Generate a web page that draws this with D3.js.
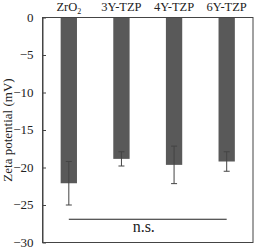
<!DOCTYPE html>
<html>
<head>
<meta charset="utf-8">
<script src="https://cdn.jsdelivr.net/npm/d3@7"></script>
<style>
  body { margin: 0; background: #fff; }
  text { font-family: 'Liberation Serif', 'Times New Roman', serif; fill: #222; }
</style>
</head>
<body>
<div id="chart"></div>
<script>
const categories = ['ZrO2', '3Y-TZP', '4Y-TZP', '6Y-TZP']
const means = [-22.1, -18.85, -19.65, -19.2]
const errors = [2.9, 0.95, 2.5, 1.3]
const yTicks = [0, -5, -10, -15, -20, -25, -30]
const nsLevel = -26.9

const width = 255
const height = 247
const margin = { top: 17.5, right: 2, bottom: 4.5, left: 42.5 }

const svg = d3.select('#chart').append('svg')
  .attr('width', width)
  .attr('height', height)

const x = d3.scaleBand()
  .domain(categories)
  .range([margin.left, width - margin.right])
  .paddingInner(0.69)
  .paddingOuter(0.345)

const y = d3.scaleLinear()
  .domain([0, -30])
  .range([margin.top, height - margin.bottom])

// bars
svg.selectAll('rect.bar').data(categories).join('rect')
  .attr('class', 'bar')
  .attr('x', d => x(d))
  .attr('width', x.bandwidth())
  .attr('y', y(0))
  .attr('height', (d, i) => y(means[i]) - y(0))
  .attr('fill', '#595959')

// error bars
const cx = d => x(d) + x.bandwidth() / 2
const err = svg.append('g').attr('stroke', '#444').attr('stroke-width', 1)
categories.forEach((c, i) => {
  const top = y(means[i] + errors[i])
  const bot = y(means[i] - errors[i])
  err.append('line').attr('x1', cx(c)).attr('x2', cx(c)).attr('y1', top).attr('y2', bot)
  err.append('line').attr('x1', cx(c) - 3).attr('x2', cx(c) + 3).attr('y1', top).attr('y2', top)
  err.append('line').attr('x1', cx(c) - 3).attr('x2', cx(c) + 3).attr('y1', bot).attr('y2', bot)
})

// frame
svg.append('rect')
  .attr('x', margin.left)
  .attr('y', margin.top)
  .attr('width', width - margin.left - margin.right)
  .attr('height', height - margin.top - margin.bottom)
  .attr('fill', 'none')
  .attr('stroke', '#444')
  .attr('stroke-width', 1)

// y axis, ticks inward
const yAxis = svg.append('g')
  .attr('transform', `translate(${margin.left},0)`)
  .call(d3.axisLeft(y).tickValues(yTicks).tickSizeInner(-3.5).tickSizeOuter(0).tickPadding(9))
yAxis.select('.domain').attr('stroke', '#444')
yAxis.selectAll('.tick line').attr('stroke', '#444')
yAxis.selectAll('.tick text')
  .style('font-family', "'Liberation Serif', serif")
  .style('font-size', '13px')
  .attr('fill', '#222')
  .attr('dy', '0.3em')

// category labels on top
svg.selectAll('text.cat').data(categories).join('text')
  .attr('class', 'cat')
  .attr('x', d => cx(d))
  .attr('y', 11)
  .attr('text-anchor', 'middle')
  .style('font-size', '12.5px')
  .each(function (d) {
    const t = d3.select(this)
    if (d === 'ZrO2') {
      t.append('tspan').text('ZrO')
      t.append('tspan').attr('dy', 2.5).style('font-size', '8px').text('2')
    } else {
      t.text(d)
    }
  })

// axis title
svg.append('text')
  .attr('transform', `translate(12,${(margin.top + height - margin.bottom) / 2}) rotate(-90)`)
  .attr('text-anchor', 'middle')
  .style('font-size', '13px')
  .text('Zeta potential (mV)')

// n.s. bracket
svg.append('line')
  .attr('x1', cx(categories[0]))
  .attr('x2', cx(categories[3]))
  .attr('y1', y(nsLevel))
  .attr('y2', y(nsLevel))
  .attr('stroke', '#222')
  .attr('stroke-width', 1.2)
svg.append('text')
  .attr('x', (cx(categories[0]) + cx(categories[3])) / 2 - 4)
  .attr('y', y(nsLevel) + 13)
  .attr('text-anchor', 'middle')
  .style('font-size', '16px')
  .text('n.s.')
</script>
</body>
</html>
